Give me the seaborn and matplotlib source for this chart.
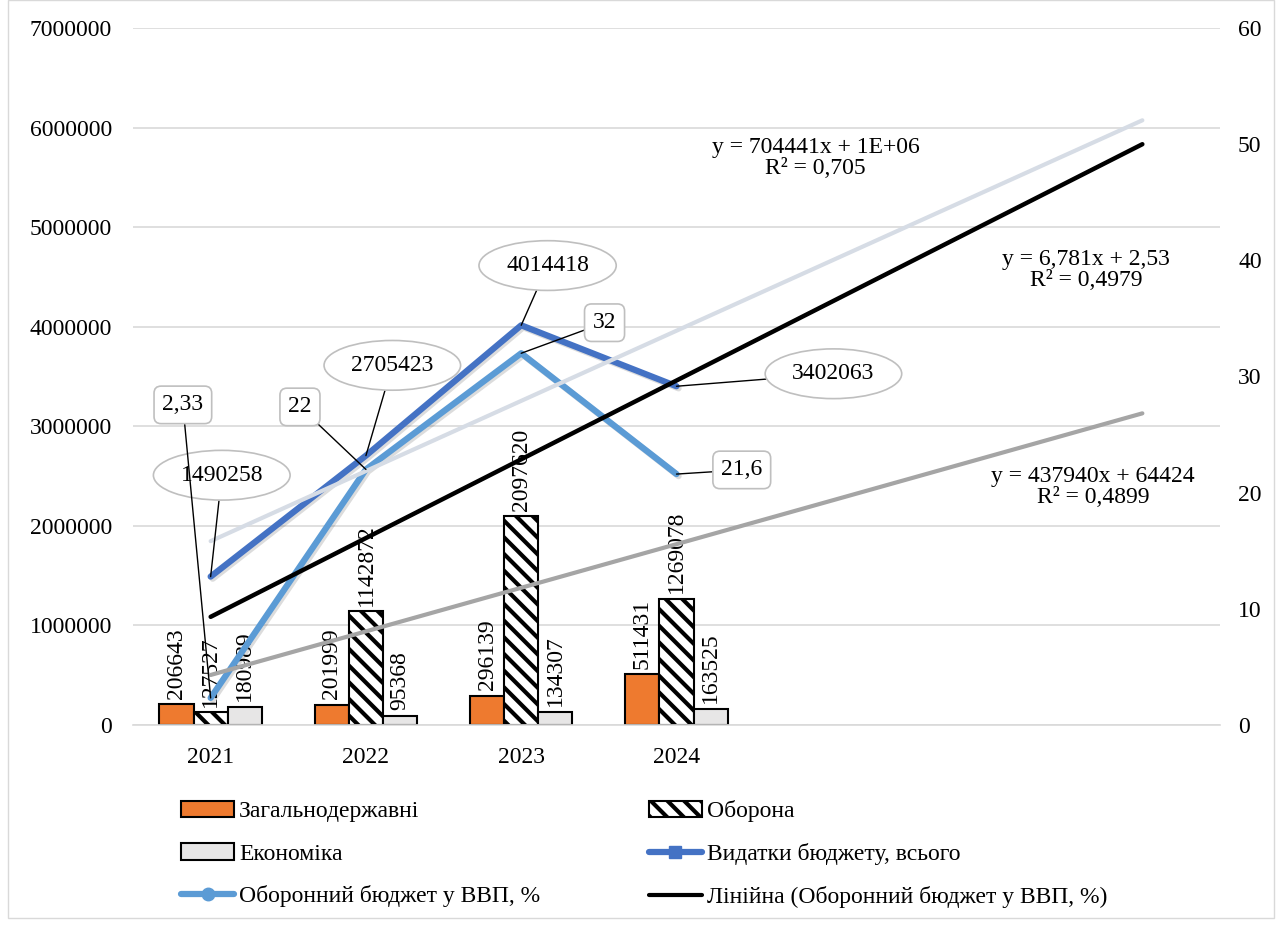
import numpy as np
import pandas as pd
import matplotlib
matplotlib.use("Agg")
import matplotlib.pyplot as plt
import matplotlib.patheffects as pe
from matplotlib.patches import Patch, Rectangle
from matplotlib.lines import Line2D
from matplotlib.ticker import StrMethodFormatter
import seaborn as sns

# Data
years = ["2021", "2022", "2023", "2024"]
general = [206643, 201999, 296139, 511431]        # Загальнодержавні
defence = [127527, 1142872, 2097620, 1269078]     # Оборона
economy = [180989, 95368, 134307, 163525]         # Економіка
total = [1490258, 2705423, 4014418, 3402063]      # Видатки бюджету, всього
gdp_share = [2.33, 22, 32, 21.6]                  # Оборонний бюджет у ВВП, %
gdp_labels = ["2,33", "22", "32", "21,6"]
bar_names = ["Загальнодержавні", "Оборона", "Економіка"]
n_periods = 7  # trendlines forecast forward 3 periods

sns.set_theme(style="white")
plt.rcParams["font.family"] = ["Liberation Serif", "DejaVu Serif"]
plt.rcParams["hatch.linewidth"] = 3.0
plt.rcParams["hatch.color"] = "black"
plt.rcParams["text.color"] = "black"
plt.rcParams["xtick.color"] = "black"
plt.rcParams["ytick.color"] = "black"
FS = 17

df = pd.DataFrame({
    "year": years * 3,
    "value": general + defence + economy,
    "cat": [n for n in bar_names for _ in years],
})

fig = plt.figure(figsize=(12.76, 9.26), dpi=100)
ax = fig.add_axes([133 / 1276, 1 - 725 / 926, (1220 - 133) / 1276, (725 - 28) / 926])

sns.barplot(data=df, x="year", y="value", hue="cat", hue_order=bar_names,
            palette=["#EE7A2F", "white", "#E7E6E6"], width=0.66,
            edgecolor="black", linewidth=1.5, errorbar=None, legend=False,
            saturation=1, ax=ax)
for bar in ax.containers[1]:
    bar.set_hatch("\\\\")
for cont, vals in zip(ax.containers, [general, defence, economy]):
    ax.bar_label(cont, labels=[str(v) for v in vals], rotation=90, padding=4,
                 fontsize=FS, color="black")

ax.set_xlim(-0.5, n_periods - 0.5)
ax.set_ylim(0, 7000000)
ax.set_yticks(np.arange(0, 7000001, 1000000))
ax.yaxis.set_major_formatter(StrMethodFormatter("{x:.0f}"))
ax.set_xticks(range(len(years)))
ax.set_xticklabels(years)
ax.set_xlabel("")
ax.set_ylabel("")
ax.grid(axis="y", color="#D9D9D9", linewidth=1.2)
ax.set_axisbelow(True)
for s in ["top", "right", "left"]:
    ax.spines[s].set_visible(False)
ax.spines["bottom"].set_color("#D9D9D9")
ax.spines["bottom"].set_linewidth(1.2)
ax.tick_params(axis="both", length=0, labelsize=FS, labelcolor="black")
ax.tick_params(axis="y", pad=15)
ax.tick_params(axis="x", pad=16)

ax2 = ax.twinx()
ax2.set_ylim(0, 60)
ax2.set_yticks(np.arange(0, 61, 10))
for s in ax2.spines.values():
    s.set_visible(False)
ax2.tick_params(axis="y", length=0, labelsize=FS, pad=13, labelcolor="black")

xpos = np.arange(len(years))
shadow = [pe.SimpleLineShadow(offset=(1.5, -1.5), alpha=0.15), pe.Normal()]

sns.lineplot(x=xpos, y=total, ax=ax2, color="#4472C4", linewidth=4.5,
             transform=ax.transData, path_effects=shadow, solid_capstyle="round")
sns.lineplot(x=xpos, y=gdp_share, ax=ax2, color="#5B9BD5", linewidth=4.5,
             path_effects=shadow, solid_capstyle="round")

# linear trendlines (fitted on period numbers 1..4, extended to 7)
t = np.arange(1, len(years) + 1)
t_ext = np.arange(1, n_periods + 1)
fit_total = np.polyfit(t, total, 1)
fit_def = np.polyfit(t, defence, 1)
fit_gdp = np.polyfit(t, gdp_share, 1)
sns.lineplot(x=t_ext - 1, y=np.polyval(fit_total, t_ext), ax=ax2,
             color="#D6DCE5", linewidth=3, transform=ax.transData)
sns.lineplot(x=t_ext - 1, y=np.polyval(fit_def, t_ext), ax=ax2,
             color="#A5A5A5", linewidth=3, transform=ax.transData)
sns.lineplot(x=t_ext - 1, y=np.polyval(fit_gdp, t_ext), ax=ax2,
             color="black", linewidth=3.2)
ax2.set_ylim(0, 60)
ax2.set_ylabel("")

ax.text(0.628, 0.813, "y = 704441x + 1E+06\nR² = 0,705", transform=ax.transAxes,
        ha="center", va="center", fontsize=FS, linespacing=1.0)
ax.text(0.877, 0.653, "y = 6,781x + 2,53\nR² = 0,4979", transform=ax.transAxes,
        ha="center", va="center", fontsize=FS, linespacing=1.0)
ax.text(0.883, 0.341, "y = 437940x + 64424\nR² = 0,4899", transform=ax.transAxes,
        ha="center", va="center", fontsize=FS, linespacing=1.0)

# data callouts
total_off = [(8, 73), (19, 65), (19, 43), (113, 9)]
for x, v, off in zip(xpos, total, total_off):
    ax2.annotate(str(v), xy=(x, v), xycoords=ax.transData, xytext=off,
                 textcoords="offset points", ha="center", va="center", fontsize=FS,
                 bbox=dict(boxstyle="ellipse,pad=0.3", fc="white", ec="#BFBFBF", lw=1.2),
                 arrowprops=dict(arrowstyle="-", color="black", lw=1, shrinkA=0, shrinkB=0))
gdp_off = [(-20, 211), (-47.5, 45), (60, 22), (47, 3)]
for x, v, lab, off in zip(xpos, gdp_share, gdp_labels, gdp_off):
    ax2.annotate(lab, xy=(x, v), xytext=off, textcoords="offset points",
                 ha="center", va="center", fontsize=FS,
                 bbox=dict(boxstyle="round,pad=0.35,rounding_size=0.3", fc="white",
                           ec="#BFBFBF", lw=1.2),
                 arrowprops=dict(arrowstyle="-", color="black", lw=1, shrinkA=0, shrinkB=0))

# legend
handles = [
    Patch(facecolor="#EE7A2F", edgecolor="black", linewidth=1.5),
    Patch(facecolor="#E7E6E6", edgecolor="black", linewidth=1.5),
    Line2D([], [], color="#5B9BD5", lw=4.5, marker="o", markersize=9),
    Patch(facecolor="white", edgecolor="black", hatch="\\\\", linewidth=1.5),
    Line2D([], [], color="#4472C4", lw=4.5, marker="s", markersize=9),
    Line2D([], [], color="black", lw=3),
]
labels = ["Загальнодержавні", "Економіка", "Оборонний бюджет у ВВП, %",
          "Оборона", "Видатки бюджету, всього", "Лінійна (Оборонний бюджет у ВВП, %)"]
fig.legend(handles, labels, ncol=2, loc="upper left",
           bbox_to_anchor=(160 / 1276, 1 - 779 / 926), frameon=False,
           fontsize=FS, handlelength=2.25, handleheight=0.7, handletextpad=0.2,
           labelspacing=0.88, columnspacing=4.6)

fig.patches.append(Rectangle((8 / 1276, 8 / 926), 1 - 10 / 1276, 1 - 8 / 926,
                             transform=fig.transFigure, fill=False,
                             edgecolor="#D9D9D9", linewidth=1))

fig.savefig("out.png", dpi=100)
